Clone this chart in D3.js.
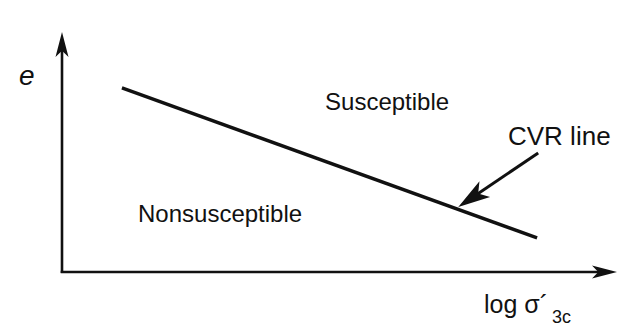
<!DOCTYPE html>
<html>
<head>
<meta charset="utf-8">
<script src="https://cdn.jsdelivr.net/npm/d3@7"></script>
<style>
  body { margin: 0; background: #fff; }
  text { font-family: "Liberation Sans", Arial, sans-serif; fill: #111; }
</style>
</head>
<body>
<div id="chart"></div>
<script>
// schematic CVR line (e vs log sigma'3c), axis units are arbitrary 0..10
var cvrX = [1.08, 8.56];
var cvrE = [7.67, 1.42];
var pointerFrom = [8.58, 4.96];
var pointerTo = [7.14, 2.71];
var regionLabels = ["Susceptible", "Nonsusceptible"];
var regionX = [4.74, 1.37];
var regionE = [6.75, 2.08];

var width = 631, height = 332;
var svg = d3.select("#chart").append("svg")
  .attr("width", width)
  .attr("height", height);

var x = d3.scaleLinear().domain([0, 10]).range([62, 617]);
var y = d3.scaleLinear().domain([0, 10]).range([272, 32]);

// draws a notched arrow head with its tip at (tx, ty), pointing along angle a
function arrowHead(tx, ty, a, len, wid) {
  var c = Math.cos(a), s = Math.sin(a);
  var bx = tx - len * c, by = ty - len * s;
  var nx = tx - len * 0.75 * c, ny = ty - len * 0.75 * s;
  var p = d3.path();
  p.moveTo(tx, ty);
  p.lineTo(bx - wid / 2 * s, by + wid / 2 * c);
  p.lineTo(nx, ny);
  p.lineTo(bx + wid / 2 * s, by - wid / 2 * c);
  p.closePath();
  svg.append("path").attr("d", p.toString()).attr("fill", "#111");
}

// arrow = shaft + head, shaft stops a little short of the tip
function arrow(x1, y1, x2, y2, sw, len, wid) {
  var a = Math.atan2(y2 - y1, x2 - x1);
  svg.append("line")
    .attr("x1", x1).attr("y1", y1)
    .attr("x2", x2 - len * 0.6 * Math.cos(a))
    .attr("y2", y2 - len * 0.6 * Math.sin(a))
    .attr("stroke", "#111").attr("stroke-width", sw);
  arrowHead(x2, y2, a, len, wid);
}

// axes (plain arrows, no ticks)
arrow(x(0), y(0) + 1, x(0), y(10), 2.6, 25, 13);
arrow(x(0) - 1.3, y(0), x(10), y(0), 2.6, 25, 13);

// CVR line
var line = d3.line().x(function (d) { return x(d[0]); }).y(function (d) { return y(d[1]); });
svg.append("path")
  .datum(d3.zip(cvrX, cvrE))
  .attr("d", line)
  .attr("fill", "none")
  .attr("stroke", "#111")
  .attr("stroke-width", 3.4);

// pointer arrow
arrow(x(pointerFrom[0]), y(pointerFrom[1]), x(pointerTo[0]), y(pointerTo[1]), 3, 32, 19);

svg.append("text")
  .attr("x", 508).attr("y", 145)
  .style("font-size", "26px")
  .text("CVR line");

svg.selectAll(".region")
  .data(regionLabels)
  .enter()
  .append("text")
  .attr("class", "region")
  .attr("x", function (d, i) { return x(regionX[i]); })
  .attr("y", function (d, i) { return y(regionE[i]); })
  .style("font-size", "24px")
  .text(function (d) { return d; });

// axis labels
svg.append("text")
  .attr("x", 19).attr("y", 85)
  .style("font-size", "28px")
  .style("font-style", "italic")
  .text("e");

var xl = svg.append("text")
  .attr("x", 484).attr("y", 313)
  .style("font-size", "25px");
xl.append("tspan").text("log \u03c3\u00b4");
xl.append("tspan").attr("dx", 4).attr("dy", 10).style("font-size", "18px").text("3c");
</script>
</body>
</html>
